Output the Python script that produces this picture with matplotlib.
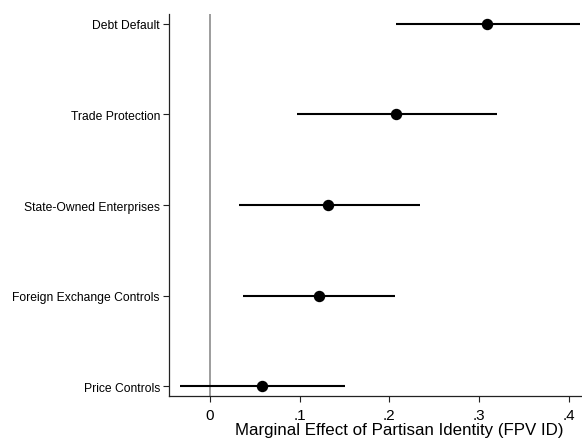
import numpy as np
import matplotlib.pyplot as plt

plt.rcParams['font.family'] = ['Liberation Sans', 'DejaVu Sans']

# policy areas, top to bottom
policies = ["Debt Default", "Trade Protection", "State-Owned Enterprises",
            "Foreign Exchange Controls", "Price Controls"]
effects = [0.309, 0.207, 0.132, 0.121, 0.058]
ci_low = [0.207, 0.097, 0.032, 0.037, -0.034]
ci_high = [0.412, 0.320, 0.234, 0.206, 0.150]

xticks = [0, 0.1, 0.2, 0.3, 0.4]
xticklabels = ["0", ".1", ".2", ".3", ".4"]

fig = plt.figure(figsize=(5.82, 4.39), dpi=100)
ax = fig.add_axes([0.2904, 0.0957, 0.7096, 0.8701])

ypos = np.arange(len(policies))[::-1]

ax.axvline(0, color="#8c8c8c", lw=1.2, zorder=1)
ax.hlines(ypos, ci_low, ci_high, color="black", lw=1.5, zorder=2)
ax.plot(effects, ypos, "o", color="black", markersize=7.2, zorder=3)

ax.set_xlim(-0.0457, 0.4147)
ax.set_ylim(-0.11, 4.11)
ax.set_yticks(ypos)
ax.set_yticklabels(policies, fontsize=8.7)
ax.set_xticks(xticks)
ax.set_xticklabels(xticklabels, fontsize=11)

for side in ["top", "right"]:
    ax.spines[side].set_visible(False)
for side in ["left", "bottom"]:
    ax.spines[side].set_linewidth(0.9)
    ax.spines[side].set_color("#222222")

ax.tick_params(axis="y", length=4.5, width=0.8, pad=2, color="#222222")
ax.tick_params(axis="x", length=4, width=0.8, pad=5, color="#222222")

ax.set_xlabel("Marginal Effect of Partisan Identity (FPV ID)", fontsize=12.2)
ax.xaxis.set_label_coords(0.557, -0.067)

fig.savefig("out.png", dpi=100)
